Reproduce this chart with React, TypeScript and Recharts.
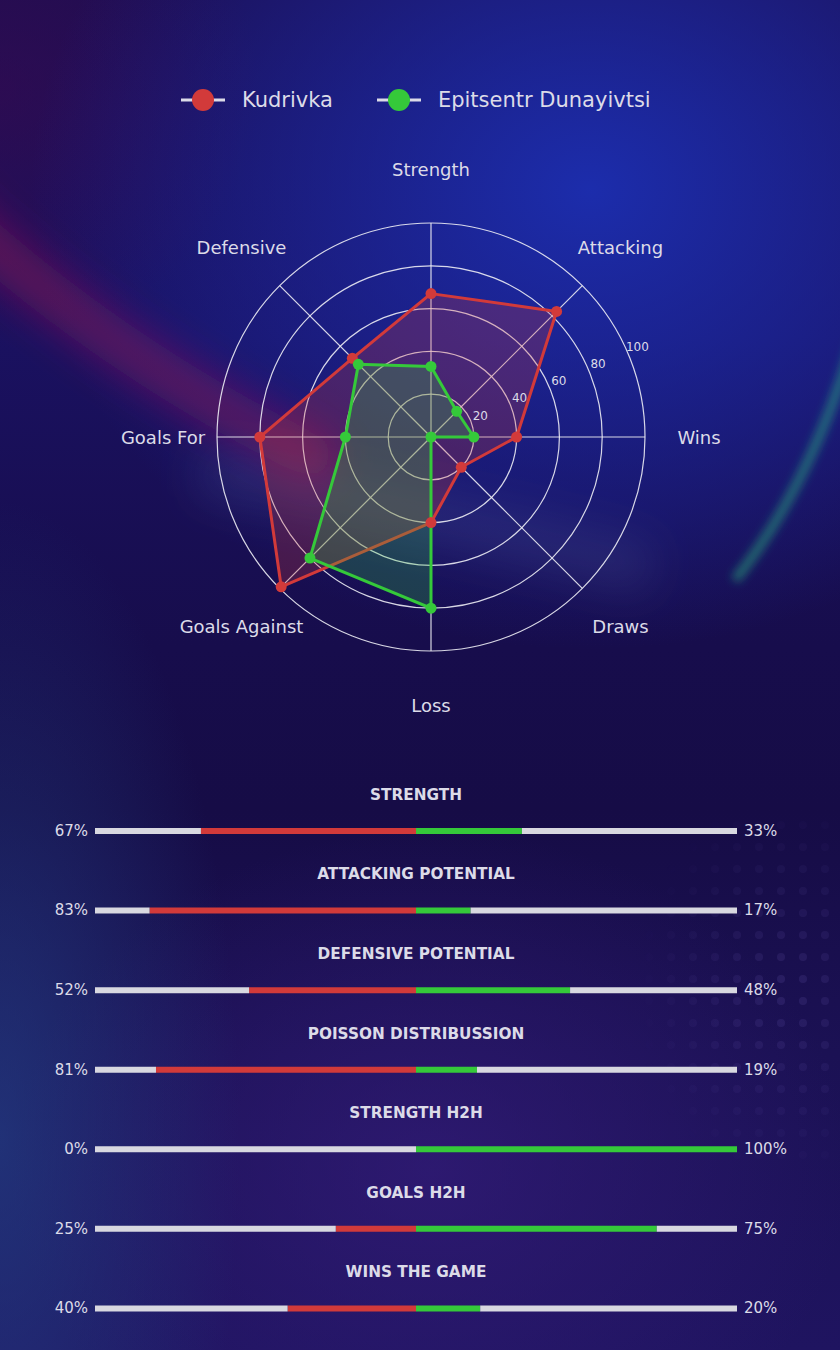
import React from 'react';
import {
  RadarChart,
  Radar,
  PolarGrid,
  PolarAngleAxis,
  PolarRadiusAxis,
  Legend,
  BarChart,
  Bar,
  XAxis,
  YAxis,
} from 'recharts';

// radar data
const SERIES = ['Kudrivka', 'Epitsentr Dunayivtsi'];
const AXES = ['Strength', 'Attacking', 'Wins', 'Draws', 'Loss', 'Goals Against', 'Goals For', 'Defensive'];
const KUDRIVKA = [67, 83, 40, 20, 40, 99, 80, 52];
const EPITSENTR = [33, 17, 20, 0, 80, 80, 40, 48];
const RADIUS_TICKS = [20, 40, 60, 80, 100];

// comparison bars
const BAR_TITLES = [
  'STRENGTH',
  'ATTACKING POTENTIAL',
  'DEFENSIVE POTENTIAL',
  'POISSON DISTRIBUSSION',
  'STRENGTH H2H',
  'GOALS H2H',
  'WINS THE GAME',
];
const LEFT_PCT = [67, 83, 52, 81, 0, 25, 40];
const RIGHT_PCT = [33, 17, 48, 19, 100, 75, 20];

const RED = '#d23a3a';
const GREEN = '#35c93a';
const TRACK = '#d8d8e0';
const TEXT = '#dcdbe8';

const CX = 431;
const CY = 437;
const OUTER_R = 214;
const LABEL_R = 268;

const radarData = AXES.map((axis, i) => ({ axis, kud: KUDRIVKA[i], epi: EPITSENTR[i] }));

const barData = BAR_TITLES.map((title, i) => ({
  title,
  red: -LEFT_PCT[i],
  green: RIGHT_PCT[i],
  trackL: -(100 - LEFT_PCT[i]),
  trackR: 100 - RIGHT_PCT[i],
}));

const AngleTick = (props: any) => {
  const { x, y, payload } = props;
  const dx = x - CX;
  const dy = y - CY;
  const d = Math.hypot(dx, dy) || 1;
  return (
    <text
      x={CX + (dx / d) * LABEL_R}
      y={CY + (dy / d) * LABEL_R}
      textAnchor="middle"
      dominantBaseline="central"
      fill={TEXT}
      fontSize={18}
    >
      {payload.value}
    </text>
  );
};

const RadiusTick = (props: any) => {
  const { payload } = props;
  const r = (payload.value / 100) * OUTER_R + 11;
  const a = (23.5 * Math.PI) / 180;
  return (
    <text
      x={CX + r * Math.cos(a)}
      y={CY - r * Math.sin(a)}
      textAnchor="middle"
      dominantBaseline="central"
      fill={TEXT}
      fontSize={12}
    >
      {payload.value}
    </text>
  );
};

const LegendContent = (props: any) => {
  const items = [...(props.payload || [])].sort(
    (a: any, b: any) => SERIES.indexOf(a.value) - SERIES.indexOf(b.value)
  );
  return (
    <div style={{ display: 'flex', alignItems: 'center', paddingLeft: 181 }}>
      {items.map((it: any, i: number) => (
        <div key={i} style={{ display: 'flex', alignItems: 'center', marginRight: 44 }}>
          <svg width={44} height={24}>
            <line x1={0} y1={12} x2={44} y2={12} stroke={TEXT} strokeWidth={3} />
            <circle cx={22} cy={12} r={11} fill={it.color} />
          </svg>
          <span style={{ marginLeft: 17, fontSize: 21, color: TEXT }}>{it.value}</span>
        </div>
      ))}
    </div>
  );
};

const RowTick = (props: any) => {
  const { y, payload } = props;
  const i = payload.index;
  return (
    <g>
      <text x={416} y={y - 36} textAnchor="middle" dominantBaseline="central" fill={TEXT} fontSize={15.3} fontWeight="bold">
        {payload.value}
      </text>
      <text x={88} y={y} textAnchor="end" dominantBaseline="central" fill={TEXT} fontSize={15}>
        {LEFT_PCT[i]}%
      </text>
      <text x={744} y={y} textAnchor="start" dominantBaseline="central" fill={TEXT} fontSize={15}>
        {RIGHT_PCT[i]}%
      </text>
    </g>
  );
};

const Background = () => (
  <div
    style={{
      position: 'absolute',
      inset: 0,
      background: [
        'radial-gradient(ellipse 560px 460px at 590px 190px, rgba(28,46,176,0.95), rgba(28,46,176,0) 100%)',
        'radial-gradient(ellipse 260px 260px at 0px 90px, rgba(55,10,80,0.6), rgba(55,10,80,0) 100%)',
        'radial-gradient(ellipse 240px 640px at 0px 1140px, rgba(36,70,140,0.6), rgba(36,70,140,0) 100%)',
        'radial-gradient(ellipse 420px 340px at 430px 1170px, rgba(52,28,122,0.7), rgba(52,28,122,0) 100%)',
        'linear-gradient(180deg, #1c0e52 0%, #1a1160 25%, #170d4c 48%, #160c46 60%, #1b1154 78%, #1f1460 100%)',
      ].join(', '),
    }}
  >
    <svg width={840} height={1350} style={{ position: 'absolute', left: 0, top: 0 }}>
      <defs>
        <filter id="blurA" x="-50%" y="-50%" width="200%" height="200%">
          <feGaussianBlur stdDeviation="20" />
        </filter>
        <filter id="blurC" x="-50%" y="-50%" width="200%" height="200%">
          <feGaussianBlur stdDeviation="22" />
        </filter>
        <filter id="blurB" x="-50%" y="-50%" width="200%" height="200%">
          <feGaussianBlur stdDeviation="5" />
        </filter>
        <radialGradient id="dotsFade" cx="0.8" cy="0.5" r="0.6">
          <stop offset="0" stopColor="#fff" stopOpacity="1" />
          <stop offset="1" stopColor="#fff" stopOpacity="0" />
        </radialGradient>
        <pattern id="dots" width="22" height="22" patternUnits="userSpaceOnUse">
          <circle cx="11" cy="11" r="4" fill="rgba(140,120,220,0.14)" />
        </pattern>
        <mask id="dotsMask">
          <rect x="580" y="820" width="260" height="340" fill="url(#dotsFade)" />
        </mask>
      </defs>
      <path d="M -60 200 Q 110 360 330 465" stroke="rgba(185,20,85,0.42)" strokeWidth={44} fill="none" filter="url(#blurA)" />
      <path d="M 200 470 Q 420 510 650 570" stroke="rgba(130,140,200,0.14)" strokeWidth={50} fill="none" filter="url(#blurC)" />
      <path d="M 860 320 Q 815 480 735 580" stroke="rgba(40,200,130,0.5)" strokeWidth={9} fill="none" filter="url(#blurB)" />
      <rect x="580" y="820" width="260" height="340" fill="url(#dots)" mask="url(#dotsMask)" />
    </svg>
  </div>
);

export default function App() {
  return (
    <div
      style={{
        position: 'absolute',
        left: 0,
        top: 0,
        width: 840,
        height: 1350,
        overflow: 'hidden',
        fontFamily: '"DejaVu Sans", sans-serif',
      }}
    >
      <Background />
      <div style={{ position: 'absolute', left: 0, top: 0 }}>
        <RadarChart width={840} height={760} data={radarData} cx={CX} cy={CY} outerRadius={OUTER_R}>
          <PolarGrid gridType="circle" stroke="#ececf4" strokeOpacity={0.9} strokeWidth={1.2} />
          <PolarAngleAxis dataKey="axis" tick={<AngleTick />} tickLine={false} axisLine={false} />
          <PolarRadiusAxis
            angle={22.5}
            domain={[0, 100]}
            ticks={RADIUS_TICKS}
            axisLine={false}
            tick={<RadiusTick />}
          />
          <Radar
            name={SERIES[0]}
            dataKey="kud"
            stroke={RED}
            strokeWidth={3}
            fill={RED}
            fillOpacity={0.25}
            dot={{ r: 5.5, fill: RED, stroke: 'none', fillOpacity: 1 }}
            isAnimationActive={false}
          />
          <Radar
            name={SERIES[1]}
            dataKey="epi"
            stroke={GREEN}
            strokeWidth={3}
            fill={GREEN}
            fillOpacity={0.25}
            dot={{ r: 5.5, fill: GREEN, stroke: 'none', fillOpacity: 1 }}
            isAnimationActive={false}
          />
          <Legend
            verticalAlign="top"
            content={<LegendContent />}
            wrapperStyle={{ top: 88, left: 0, width: 840 }}
          />
        </RadarChart>
      </div>
      <div style={{ position: 'absolute', left: 0, top: 770 }}>
        <BarChart
          width={840}
          height={578}
          data={barData}
          layout="vertical"
          stackOffset="sign"
          margin={{ top: 21, right: 103, bottom: 0, left: 0 }}
        >
          <XAxis type="number" domain={[-100, 100]} hide allowDataOverflow />
          <YAxis
            type="category"
            dataKey="title"
            width={95}
            axisLine={false}
            tickLine={false}
            interval={0}
            tick={<RowTick />}
          />
          <Bar dataKey="red" stackId="s" fill={RED} barSize={6} isAnimationActive={false} />
          <Bar dataKey="green" stackId="s" fill={GREEN} barSize={6} isAnimationActive={false} />
          <Bar dataKey="trackL" stackId="s" fill={TRACK} barSize={6} isAnimationActive={false} />
          <Bar dataKey="trackR" stackId="s" fill={TRACK} barSize={6} isAnimationActive={false} />
        </BarChart>
      </div>
    </div>
  );
}
